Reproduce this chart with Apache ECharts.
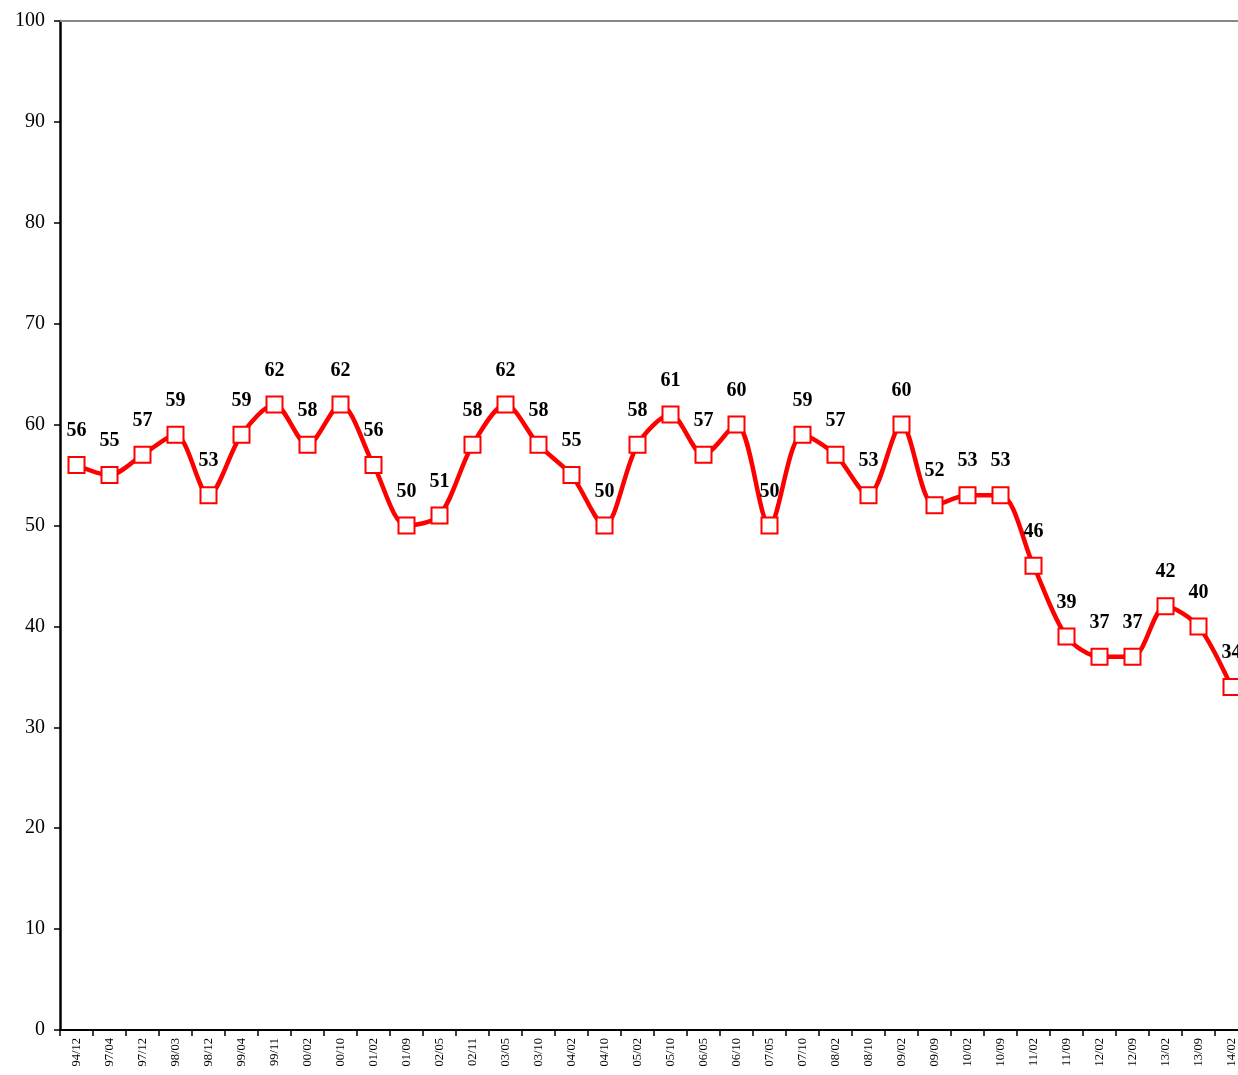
<!DOCTYPE html>
<html><head><meta charset="utf-8">
<script src="https://cdn.jsdelivr.net/npm/echarts@6/dist/echarts.min.js"></script>
<style>html,body{margin:0;padding:0;background:#fff;overflow:hidden}#c{width:1250px;height:1075px}</style>
</head><body><div id="c"></div>
<script>
const categories = ["94/12","97/04","97/12","98/03","98/12","99/04","99/11","00/02","00/10","01/02","01/09","02/05","02/11","03/05","03/10","04/02","04/10","05/02","05/10","06/05","06/10","07/05","07/10","08/02","08/10","09/02","09/09","10/02","10/09","11/02","11/09","12/02","12/09","13/02","13/09","14/02"];
const values = [56,55,57,59,53,59,62,58,62,56,50,51,58,62,58,55,50,58,61,57,60,50,59,57,53,60,52,53,53,46,39,37,37,42,40,34];
const yTicks = [0,10,20,30,40,50,60,70,80,90,100];

const font = "Liberation Serif";
const chart = echarts.init(document.getElementById('c'));
chart.setOption({
  animation: false,
  backgroundColor: '#fff',
  grid: { left: 60, top: 21, right: 2, bottom: 45, containLabel: false },
  xAxis: [{
    type: 'category', data: categories, boundaryGap: true,
    axisLine: { lineStyle: { color: '#000', width: 2 } },
    axisTick: { show: true, alignWithLabel: false, length: 6, lineStyle: { color: '#000', width: 1.5 } },
    axisLabel: { rotate: 90, interval: 0, fontFamily: font, fontSize: 12.5, color: '#000', margin: 8 },
    splitLine: { show: false }
  }, {
    type: 'category', data: categories, position: 'top',
    axisLine: { lineStyle: { color: '#888', width: 2 } },
    axisTick: { show: false }, axisLabel: { show: false }
  }],
  yAxis: {
    type: 'value', min: 0, max: 100, interval: 10,
    axisLine: { show: true, lineStyle: { color: '#000', width: 2.5 } },
    axisTick: { show: true, length: 6, lineStyle: { color: '#000', width: 1.5 } },
    axisLabel: { fontFamily: font, fontSize: 20, color: '#000', margin: 15,
      formatter: v => yTicks.includes(v) ? String(v) : '' },
    splitLine: { show: false }
  },
  series: [{
    type: 'line', data: values, smooth: 0.3,
    lineStyle: { color: '#ff0000', width: 4.5 },
    symbol: 'rect', symbolSize: 16,
    itemStyle: { color: '#fff', borderColor: '#ff0000', borderWidth: 2 },
    label: { show: true, position: 'top', distance: 15, fontFamily: font, fontWeight: 'bold', fontSize: 20, color: '#000' },
    z: 3
  }]
});
</script></body></html>
